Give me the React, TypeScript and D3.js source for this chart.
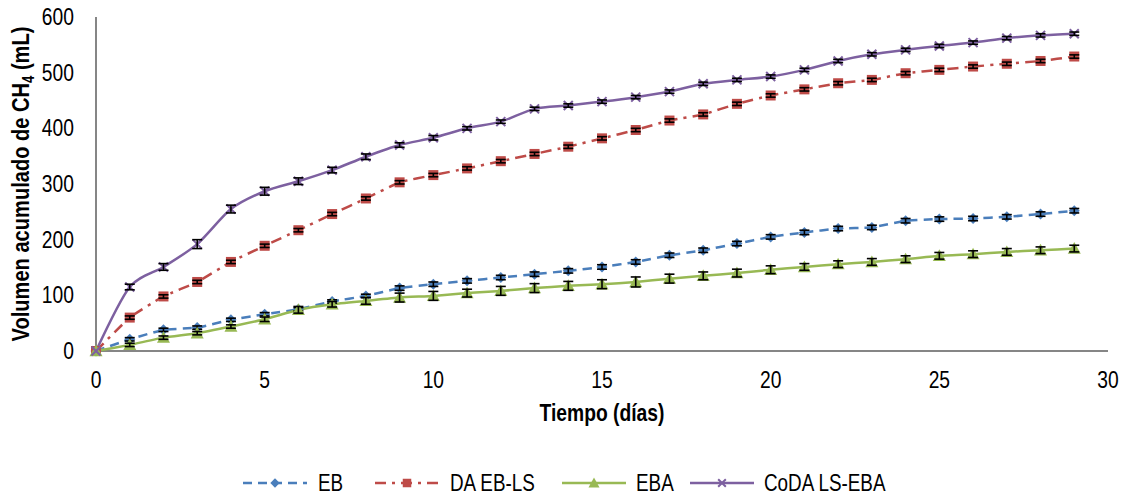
import React from "react";
import * as d3 from "d3";

const days = [0,1,2,3,4,5,6,7,8,9,10,11,12,13,14,15,16,17,18,19,20,21,22,23,24,25,26,27,28,29];
const ebValues = [0,21,38,42,56,66,75,89,99,113,120,126,132,138,144,151,160,172,181,193,205,213,220,222,234,237,238,241,246,252];
const ebErr = [0,3,3,3,3,3,3,3,3,4,4,4,4,4,4,4,4,4,4,4,4,4,4,4,4,4,4,4,4,4];
const daValues = [0,60,98,124,160,189,217,246,274,303,316,328,341,354,367,382,397,414,425,444,459,470,481,487,499,505,511,516,521,529];
const daErr = [0,3,3,3,3,3,3,3,3,3,3,3,3,3,3,3,3,3,3,3,3,3,3,3,3,3,3,3,3,3];
const ebaValues = [0,11,24,32,44,57,74,84,90,96,99,104,108,113,117,120,124,130,135,140,146,151,156,160,165,171,174,178,181,184];
const ebaErr = [0,3,3,3,3,4,6,5,6,8,8,7,8,8,8,8,9,8,7,7,7,6,6,6,6,6,6,6,6,6];
const codaValues = [0,115,151,192,255,287,305,325,349,370,383,400,412,435,441,448,456,466,480,487,493,505,521,533,541,548,554,562,567,570];
const codaErr = [0,5,6,8,7,7,6,5,5,4,4,3,3,3,3,3,3,3,3,3,3,3,3,3,3,3,3,3,3,3];
const xTicks = [0,5,10,15,20,25,30];
const yTicks = [0,100,200,300,400,500,600];
const seriesNames = ["EB","DA EB-LS","EBA","CoDA LS-EBA"];

const FONT = "'Liberation Sans', Arial, sans-serif";
const NARROW = 0.82;

type Series = { name: string; values: number[]; err: number[]; color: string; dash: string; marker: string; smooth: boolean };

const series: Series[] = [
  { name: seriesNames[0], values: ebValues, err: ebErr, color: "#4a7ebb", dash: "9,6", marker: "diamond", smooth: false },
  { name: seriesNames[1], values: daValues, err: daErr, color: "#be4b48", dash: "11,6,3,6", marker: "square", smooth: false },
  { name: seriesNames[2], values: ebaValues, err: ebaErr, color: "#98b954", dash: "", marker: "triangle", smooth: false },
  { name: seriesNames[3], values: codaValues, err: codaErr, color: "#7d60a0", dash: "", marker: "x", smooth: true },
];

function NText({ x, y, anchor, size, bold, children, rotate }: any) {
  return (
    <g transform={`translate(${x},${y})${rotate ? ` rotate(${rotate})` : ""} scale(${NARROW},1)`}>
      <text x={0} y={0} textAnchor={anchor || "start"} fontSize={size} fontWeight={bold ? "bold" : "normal"} fill="#000">{children}</text>
    </g>
  );
}

function Marker({ type, x, y, color, scale = 1 }: { type: string; x: number; y: number; color: string; scale?: number }) {
  if (type === "diamond") {
    const s = 5.5 * scale;
    return <path d={`M${x},${y - s}L${x + s},${y}L${x},${y + s}L${x - s},${y}Z`} fill={color} />;
  }
  if (type === "square") {
    const s = 5 * scale;
    return <rect x={x - s} y={y - s} width={2 * s} height={2 * s} fill={color} />;
  }
  if (type === "triangle") {
    const s = 6.5 * scale;
    return <path d={`M${x},${y - s}L${x + s},${y + s * 0.8}L${x - s},${y + s * 0.8}Z`} fill={color} />;
  }
  const s = 4.5 * scale;
  return <path d={`M${x - s},${y - s}L${x + s},${y + s}M${x + s},${y - s}L${x - s},${y + s}`} stroke={color} strokeWidth={2} fill="none" />;
}

export default function App() {
  const W = 1135, H = 497;
  const x = d3.scaleLinear().domain([0, 30]).range([96, 1108]);
  const y = d3.scaleLinear().domain([0, 600]).range([351, 17]);

  return (
    <svg width={W} height={H} style={{ position: "absolute", left: 0, top: 0, background: "#fff" }} fontFamily={FONT}>
      <rect width={W} height={H} fill="#fff" />
      {/* axes */}
      <line x1={x(0)} x2={x(0)} y1={y(600)} y2={y(0)} stroke="#868686" strokeWidth={2} />
      <line x1={x(0)} x2={x(30)} y1={y(0)} y2={y(0)} stroke="#868686" strokeWidth={2} />
      {yTicks.map((t) => (
        <NText key={"y" + t} x={x(0) - 22} y={y(t) + 8} anchor="end" size={23.5}>{t}</NText>
      ))}
      {xTicks.map((t) => (
        <NText key={"x" + t} x={x(t)} y={y(0) + 37} anchor="middle" size={23.5}>{t}</NText>
      ))}
      <NText x={602} y={421} anchor="middle" size={23.5} bold>Tiempo (días)</NText>
      <g transform={`translate(29,${184}) rotate(-90) scale(${NARROW},1)`}>
        <text x={0} y={0} textAnchor="middle" fontSize={24.5} fontWeight="bold" fill="#000">
          Volumen acumulado de CH<tspan fontSize={16} dy={5}>4</tspan><tspan dy={-5}> (mL)</tspan>
        </text>
      </g>
      {/* lines */}
      {series.map((s) => {
        const line = d3.line<number>()
          .x((_, i) => x(days[i]))
          .y((v) => y(v))
          .curve(s.smooth ? d3.curveCardinal.tension(0.2) : d3.curveCardinal.tension(0.6));
        return (
          <path key={s.name} d={line(s.values) || ""} fill="none" stroke={s.color} strokeWidth={2.5} strokeDasharray={s.dash || undefined} />
        );
      })}
      {/* markers & error bars */}
      {series.map((s) => (
        <g key={s.name + "m"}>
          {s.values.map((v, i) => (
            <Marker key={i} type={s.marker} x={x(days[i])} y={y(v)} color={s.color} />
          ))}
          {s.values.map((v, i) => {
            if (!s.err[i]) return null;
            const cx = x(days[i]);
            const y1 = y(v + s.err[i]);
            const y2 = y(v - s.err[i]);
            return (
              <g key={"e" + i} stroke="#000" strokeWidth={1.6}>
                <line x1={cx} x2={cx} y1={y1} y2={y2} />
                <line x1={cx - 5} x2={cx + 5} y1={y1} y2={y1} />
                <line x1={cx - 5} x2={cx + 5} y1={y2} y2={y2} />
              </g>
            );
          })}
        </g>
      ))}
      {/* legend */}
      {[
        { s: series[0], lx: 243, tx: 318 },
        { s: series[1], lx: 375, tx: 450 },
        { s: series[2], lx: 562, tx: 636 },
        { s: series[3], lx: 690, tx: 764 },
      ].map(({ s, lx, tx }) => (
        <g key={s.name + "leg"}>
          <line x1={lx} x2={lx + 64} y1={483} y2={483} stroke={s.color} strokeWidth={2.5} strokeDasharray={s.dash || undefined} />
          <Marker type={s.marker} x={lx + 32} y={483} color={s.color} scale={0.85} />
          <NText x={tx} y={491} size={23}>{s.name}</NText>
        </g>
      ))}
    </svg>
  );
}
